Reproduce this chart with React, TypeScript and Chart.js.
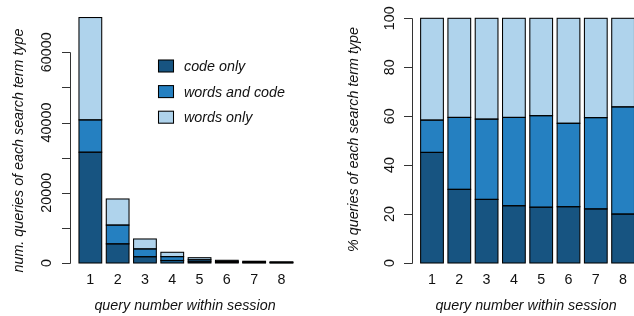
import React, { useEffect, useRef } from 'react';
import { Chart, registerables } from 'chart.js';

Chart.register(...registerables);

// ---------- data ----------
const categories = ['1', '2', '3', '4', '5', '6', '7', '8'];
const seriesLabels = ['code only', 'words and code', 'words only'];

const countCodeOnly = [31550, 5450, 1790, 715, 345, 180, 110, 66];
const countWordsAndCode = [9200, 5350, 2220, 1100, 565, 262, 187, 145];
const countWordsOnly = [29150, 7430, 2830, 1235, 600, 330, 203, 119];

const pctCodeOnly = [45.2, 30.1, 26.0, 23.4, 22.8, 23.0, 22.1, 20.0];
const pctWordsAndCode = [13.2, 29.4, 32.8, 36.1, 37.4, 34.1, 37.3, 43.8];
const pctWordsOnly = [41.6, 40.5, 41.2, 40.5, 39.8, 42.9, 40.6, 36.2];

const countTicks = [0, 10000, 20000, 30000, 40000, 50000, 60000];
const countTickLabels = ['0', '', '20000', '', '40000', '', '60000'];
const pctTicks = [0, 20, 40, 60, 80, 100];
const pctTickLabels = ['0', '20', '40', '60', '80', '100'];

const xTitle = 'query number within session';
const countTitle = 'num. queries of each search term type';
const pctTitle = '% queries of each search term type';

const seriesColors = ['#175481', '#2580c1', '#afd3ec'];

// ---------- style ----------
const FAMILY = '"Liberation Sans", Arial, Helvetica, sans-serif';
const FS = 14.3;
const TEXT = '#111';

type AxisCfg = {
  ticks: number[];
  tickLabels: string[];
  axisX: number;
  labelBaseX: number;
  title: string;
  titleBaseX: number;
  titleCenterY: number;
  xLabelBaseY: number;
  xTitleBaseY: number;
  xTitleCenterX: number | null;
  legend: boolean;
};

function makePlugin(cfg: AxisCfg) {
  return {
    id: 'rAxes',
    afterDatasetsDraw(chart: any) {
      // R-style outlines: 1px black stroke centred on each rectangle edge
      const ctx = chart.ctx as CanvasRenderingContext2D;
      ctx.save();
      ctx.strokeStyle = '#000';
      ctx.lineWidth = 1.05;
      chart.data.datasets.forEach((_: any, di: number) => {
        const meta = chart.getDatasetMeta(di);
        meta.data.forEach((el: any) => {
          const p = el.getProps(['x', 'y', 'base', 'width'], true);
          const top = Math.min(p.y, p.base);
          const h = Math.abs(p.base - p.y);
          ctx.strokeRect(p.x - p.width / 2, top, p.width, h);
        });
      });
      ctx.restore();
    },
    afterDraw(chart: any) {
      const ctx = chart.ctx as CanvasRenderingContext2D;
      const y = chart.scales.y;
      const x = chart.scales.x;
      ctx.save();
      // y axis line
      const yTop = y.getPixelForValue(cfg.ticks[cfg.ticks.length - 1]);
      const yBot = y.getPixelForValue(cfg.ticks[0]);
      ctx.strokeStyle = '#333';
      ctx.lineWidth = 1;
      ctx.beginPath();
      ctx.moveTo(cfg.axisX, Math.round(yTop) + 0.5);
      ctx.lineTo(cfg.axisX, Math.round(yBot) + 0.5);
      cfg.ticks.forEach((t) => {
        const py = Math.round(y.getPixelForValue(t)) + 0.5;
        ctx.moveTo(cfg.axisX, py);
        ctx.lineTo(cfg.axisX - 8.5, py);
      });
      ctx.stroke();
      // tick labels (rotated)
      ctx.fillStyle = TEXT;
      ctx.font = `${FS}px ${FAMILY}`;
      ctx.textAlign = 'center';
      ctx.textBaseline = 'alphabetic';
      cfg.ticks.forEach((t, i) => {
        const lab = cfg.tickLabels[i];
        if (!lab) return;
        const py = y.getPixelForValue(t);
        ctx.save();
        ctx.translate(cfg.labelBaseX, py);
        ctx.rotate(-Math.PI / 2);
        ctx.fillText(lab, 0, 0);
        ctx.restore();
      });
      // y title
      ctx.font = `italic ${FS}px ${FAMILY}`;
      ctx.save();
      ctx.translate(cfg.titleBaseX, cfg.titleCenterY);
      ctx.rotate(-Math.PI / 2);
      ctx.fillText(cfg.title, 0, 0);
      ctx.restore();
      // x labels
      ctx.font = `${FS}px ${FAMILY}`;
      chart.data.labels.forEach((lab: string, i: number) => {
        ctx.fillText(lab, x.getPixelForValue(i), cfg.xLabelBaseY);
      });
      // x title
      ctx.font = `italic ${FS}px ${FAMILY}`;
      const ca = chart.chartArea;
      const cx = cfg.xTitleCenterX != null ? cfg.xTitleCenterX : (ca.left + ca.right) / 2;
      ctx.fillText(xTitle, cx, cfg.xTitleBaseY);
      // legend
      if (cfg.legend) {
        ctx.textAlign = 'left';
        ctx.lineWidth = 1.05;
        chart.data.datasets.forEach((ds: any, i: number) => {
          const by = 60 + i * 25.6;
          ctx.fillStyle = ds.backgroundColor;
          ctx.fillRect(158.5, by, 15, 12);
          ctx.strokeStyle = '#000';
          ctx.strokeRect(158.5, by, 15, 12);
          ctx.fillStyle = TEXT;
          ctx.fillText(ds.label, 184, by + 11);
        });
      }
      ctx.restore();
    },
  };
}

function makeConfig(values: number[][], yMax: number, padding: any, cfg: AxisCfg) {
  return {
    type: 'bar' as const,
    data: {
      labels: categories,
      datasets: values.map((v, i) => ({
        label: seriesLabels[i],
        data: v,
        backgroundColor: seriesColors[i],
        borderWidth: 0,
        inflateAmount: 0,
        barPercentage: 0.8333,
        categoryPercentage: 1,
        clip: false,
      })),
    },
    options: {
      responsive: false,
      animation: false,
      devicePixelRatio: 1,
      layout: { padding },
      plugins: { legend: { display: false }, tooltip: { enabled: false } },
      scales: {
        x: { stacked: true, display: false, offset: true },
        y: { stacked: true, display: false, min: 0, max: yMax },
      },
    },
    plugins: [makePlugin(cfg)],
  };
}

function ChartCanvas(props: { left: number; config: any }) {
  const ref = useRef<HTMLCanvasElement | null>(null);
  useEffect(() => {
    if (!ref.current) return;
    const chart = new Chart(ref.current, props.config);
    return () => chart.destroy();
  }, []);
  return (
    <canvas
      ref={ref}
      width={320}
      height={316}
      style={{ position: 'absolute', left: props.left, top: 0, width: 320, height: 316 }}
    />
  );
}

const leftCfg: AxisCfg = {
  ticks: countTicks,
  tickLabels: countTickLabels,
  axisX: 70.5,
  labelBaseX: 50.6,
  title: countTitle,
  titleBaseX: 23,
  titleCenterY: 150.5,
  xLabelBaseY: 284,
  xTitleBaseY: 309.5,
  xTitleCenterX: 185,
  legend: true,
};

const rightCfg: AxisCfg = {
  ticks: pctTicks,
  tickLabels: pctTickLabels,
  axisX: 92.5,
  labelBaseX: 74.1,
  title: pctTitle,
  titleBaseX: 38,
  titleCenterY: 139.5,
  xLabelBaseY: 284,
  xTitleBaseY: 309.5,
  xTitleCenterX: 206,
  legend: false,
};

const leftConfig = makeConfig(
  [countCodeOnly, countWordsAndCode, countWordsOnly],
  72000,
  { left: 76.7, right: 24.9, top: 10.16, bottom: 53 },
  leftCfg
);

const rightConfig = makeConfig(
  [pctCodeOnly, pctWordsAndCode, pctWordsOnly],
  100,
  { left: 98.35, right: 3.25, top: 18.3, bottom: 53 },
  rightCfg
);

export default function App() {
  return (
    <div
      style={{
        position: 'fixed',
        left: 0,
        top: 0,
        width: 634,
        height: 316,
        overflow: 'hidden',
        background: '#fff',
      }}
    >
      <ChartCanvas left={0} config={leftConfig} />
      <ChartCanvas left={320} config={rightConfig} />
    </div>
  );
}
